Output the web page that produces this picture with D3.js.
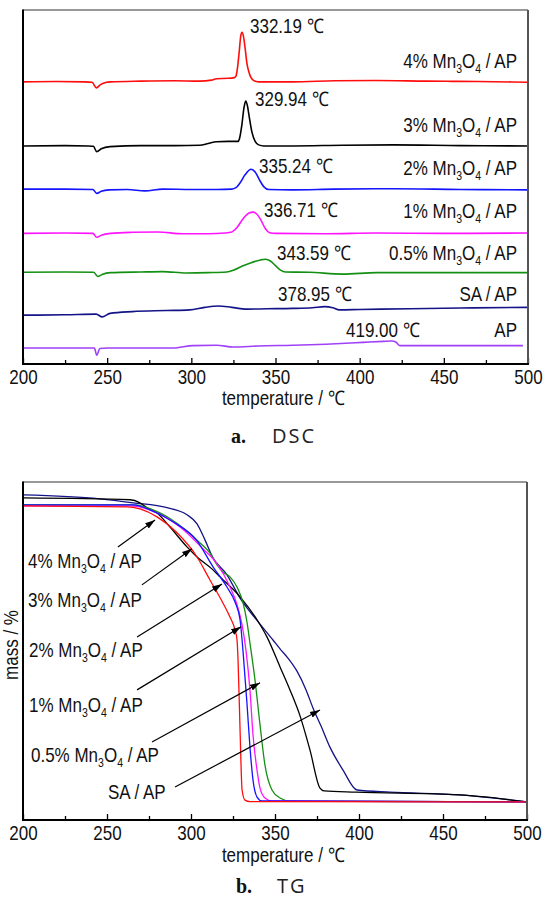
<!DOCTYPE html>
<html><head><meta charset="utf-8">
<script src="https://cdn.jsdelivr.net/npm/d3@7"></script>
<style>
body{margin:0;background:#fff}
text{font-family:"Liberation Sans",Arial,Helvetica,sans-serif;fill:#111}
</style>
</head><body>
<svg id="c" width="546" height="902"></svg>
<script>
// ---------------- DATA ----------------
const tempTicks = [200, 250, 300, 350, 400, 450, 500];
const tempMinorTicks = [225, 275, 325, 375, 425, 475];

// DSC curves: [temperature °C, heat flow (a.u., stacked offsets)]
const dsc4pct = [[200,79.7],[220,79.8],[236,79.7],[241,79.6],[243.6,78.0],[246,78.9],[249,79.5],[252,79.7],[270,79.9],[290,80.0],[305,79.9],[312,80.2],[315,80.6],[322,80.7],[325.5,80.9],[326.5,81.3],[327.5,84],[328.5,88.5],[329.3,92.5],[330.1,93.7],[331,92.5],[332,89],[333,85],[334.5,82],[336.7,80.2],[340,79.7],[360,79.7],[385,80.0],[410,80.1],[440,79.9],[470,79.8],[500,79.6]];
const dsc3pct = [[200,61.6],[225,61.7],[239,61.6],[241.8,61.5],[243.8,60.0],[246.5,60.8],[251.7,61.4],[270,61.7],[290,61.7],[305,61.8],[310,62.3],[315,62.8],[322,62.9],[327.8,62.9],[328.5,63.5],[330,67.5],[331.3,72.5],[332.3,74.3],[333.3,73],[334.5,69.5],[336,65.5],[338,62.8],[340,61.9],[343,61.6],[360,61.6],[390,61.8],[420,61.9],[460,61.7],[500,61.6]];
const dsc2pct = [[200,49.4],[225,49.4],[241.5,49.3],[243.8,48.2],[246.5,48.8],[251,49.2],[262,49.3],[272.5,48.9],[283,49.4],[300,49.3],[315,49.3],[324,49.4],[326.5,49.8],[329,51.2],[332,53.5],[335.5,55.0],[338,54.2],[340.5,52],[343,50.1],[346,49.3],[360,49.2],[385,49.4],[420,49.5],[460,49.3],[500,49.2]];
const dsc1pct = [[200,36.9],[225,37.0],[241.5,36.9],[243.8,35.8],[246.5,36.4],[252,36.9],[265,37.2],[280,37.3],[295,36.8],[310,36.8],[320,37.0],[323.5,37.2],[327,38.5],[331,41.2],[334,42.6],[336.7,42.9],[339,42.3],[341.5,40.5],[344,38.2],[346.5,37.1],[350,36.9],[380,36.8],[410,37.0],[450,36.9],[500,37.0]];
const dsc05pct = [[200,25.9],[225,26.0],[242,25.9],[244.4,24.7],[247,25.3],[252,25.8],[270,26.0],[283,26.1],[297,25.7],[310,25.8],[321,26.0],[325,26.5],[330,27.6],[336,28.7],[341,29.4],[344.2,29.6],[347,29.1],[350,27.8],[353,26.5],[356,26.0],[370,25.9],[390,25.4],[410,25.8],[450,25.8],[500,25.8]];
const dscSA = [[200,13.8],[225,13.9],[243.5,14.1],[247,13.3],[251.7,14.3],[265,14.8],[285,15.1],[299,15.3],[308,16.0],[316,16.4],[324,16.0],[333,15.5],[345,15.6],[360,15.7],[372,15.9],[379.3,16.2],[384,15.9],[388,15.3],[400,15.4],[430,15.6],[460,15.8],[500,16.0]];
const dscAP = [[200,4.5],[225,4.5],[242.4,4.5],[243.8,2.5],[245.7,4.4],[250,4.5],[270,4.5],[289,4.5],[301,5.2],[315,5.3],[325,4.8],[340,5.1],[360,5.3],[380,5.6],[402,6.1],[414,6.4],[419,6.5],[421.5,6.2],[423.8,5.2],[430,5.2],[460,5.2],[497,5.2]];

const dscLegend = ["4% Mn3O4 / AP","3% Mn3O4 / AP","2% Mn3O4 / AP","1% Mn3O4 / AP","0.5% Mn3O4 / AP","SA / AP","AP"];
const dscPeakLabels = ["332.19 \u2103","329.94 \u2103","335.24 \u2103","336.71 \u2103","343.59 \u2103","378.95 \u2103","419.00 \u2103"];

// TG curves: [temperature °C, mass %]
const tg4pct = [[200,96.4],[261.9,96.1],[269.6,95.4],[279.8,92.8],[291.7,87.6],[303.6,79.7],[311.3,72.2],[319,64.7],[323.2,60.1],[326.2,55.9],[327.4,52.6],[328,46.1],[329.2,23.2],[330.4,3.6],[332.1,0.3],[335.1,-0.2],[500,-0.3]];
const tg3pct = [[200,99.0],[263.7,98.4],[269.6,97.4],[273.8,95.8],[279.8,94.1],[287.5,89.5],[297.6,83.0],[303.6,79.7],[313.1,75.5],[317.3,73.2],[329.2,66.7],[339.3,59.2],[345.2,53.6],[353,43.8],[358.9,36.3],[364.9,27.8],[370.8,16.7],[376.8,4.2],[379.2,3.3],[398.2,2.9],[460.1,2.0],[500,-0.3]];
const tg2pct = [[200,96.7],[265.5,96.7],[275.6,95.1],[289.3,91.2],[303.6,85.0],[313.1,76.5],[321.4,69.9],[326.2,65.0],[329.2,59.2],[331,48.7],[333.3,32.0],[335.1,17.6],[336.9,6.9],[339.3,1.3],[342.3,0],[500,-0.3]];
const tg1pct = [[200,96.4],[263.7,96.4],[279.8,94.1],[293.5,89.5],[307.1,82.4],[315.5,77.5],[323.2,69.9],[327.4,64.1],[330.4,57.5],[332.7,49.3],[335.1,36.3],[336.9,21.6],[339.3,10.1],[341.1,4.2],[344,1.0],[348.2,0],[500,-0.3]];
const tg05pct = [[200,96.7],[265.5,96.7],[281.5,94.1],[295.2,89.2],[305.4,84.3],[311.3,81.0],[315.5,77.1],[319,74.8],[323.2,73.2],[327.4,69.9],[331,64.7],[333.3,58.5],[335.1,51.6],[338.1,39.5],[341.1,24.8],[344,11.8],[348.2,3.6],[353,1.0],[358.9,0],[500,-0.3]];
const tgSA = [[200,100],[245.8,98.7],[265.5,97.4],[285.7,95.8],[297.6,93.5],[303.6,90.5],[308.3,85.3],[313.1,79.4],[321.4,73.9],[329.2,66.3],[338.1,59.8],[348.8,52.6],[353,49.7],[357.7,46.7],[363,42.5],[368.5,36.3],[372.6,30.4],[377.4,24.5],[382.7,17.6],[390.5,10.1],[398.8,3.6],[418.5,2.9],[460,2.0],[500,-0.3]];

const tgLegend = ["4% Mn3O4 / AP","3% Mn3O4 / AP","2% Mn3O4 / AP","1% Mn3O4 / AP","0.5% Mn3O4 / AP","SA / AP"];
// arrows: [from T, from mass, to T, to mass]
const tgArrows = [[256.5,83.0,278.6,91.8],[270.8,70.6,300.6,82.4],[267.9,53.6,318.5,70.9],[267.9,36.3,329.8,56.9],[276.8,19.3,341.1,38.6],[290.5,4.6,376.8,29.7]];

const colors = ["#ff0d0d","#000000","#1414ff","#ff14ff","#139013","#141488","#a040f8"];

// ---------------- DRAW ----------------
const FS = 20, SX = 0.85;   // tall, slightly condensed lettering
const svg = d3.select("#c");
svg.append("defs").append("marker")
  .attr("id","ah").attr("viewBox","0 -4 10 8").attr("refX",10).attr("refY",0)
  .attr("markerWidth",10).attr("markerHeight",8).attr("markerUnits","userSpaceOnUse")
  .attr("orient","auto").append("path").attr("d","M0,-3.2L10,0L0,3.2Z").attr("fill","#000");

function richLabel(g, str, x, y, anchor){
  const t = g.append("text").attr("transform",`translate(${x},${y}) scale(${SX},1)`)
    .attr("text-anchor",anchor).style("font-size",FS+"px");
  const m = str.match(/^(.*)Mn3O4(.*)$/);
  if(!m){ t.text(str); return t; }
  t.append("tspan").text(m[1]+"Mn");
  t.append("tspan").attr("dy",4.5).style("font-size",(FS*0.62)+"px").text("3");
  t.append("tspan").attr("dy",-4.5).text("O");
  t.append("tspan").attr("dy",4.5).style("font-size",(FS*0.62)+"px").text("4");
  t.append("tspan").attr("dy",-4.5).text(m[2]);
  return t;
}

function frame(x, y, box, pad){
  const g = svg.append("g");
  const major = d3.axisBottom(x).tickValues(tempTicks).tickSizeInner(-6).tickSizeOuter(0).tickPadding(pad).tickFormat(d3.format("d"));
  const minor = d3.axisBottom(x).tickValues(tempMinorTicks).tickSizeInner(-4).tickSizeOuter(0).tickFormat("");
  const ga = g.append("g").attr("transform",`translate(0,${box.bottom})`).call(major);
  const gm = g.append("g").attr("transform",`translate(0,${box.bottom})`).call(minor);
  [ga,gm].forEach(a=>{a.select(".domain").remove(); a.selectAll("line").attr("stroke","#000").attr("stroke-width",1.3);});
  ga.selectAll("text").style("font-size",FS+"px").attr("fill","#111").attr("transform",`scale(${SX},1)`)
    .style("font-family","'Liberation Sans',Arial,sans-serif");
  g.append("line").attr("x1",box.left).attr("x2",box.right).attr("y1",box.top).attr("y2",box.top).attr("stroke","#333").attr("stroke-width",1.2);
  g.append("line").attr("x1",box.right).attr("x2",box.right).attr("y1",box.top).attr("y2",box.bottom).attr("stroke","#555").attr("stroke-width",2);
  g.append("line").attr("x1",box.left).attr("x2",box.left).attr("y1",box.top-0.6).attr("y2",box.bottom+1).attr("stroke","#000").attr("stroke-width",2);
  g.append("line").attr("x1",box.left-1).attr("x2",box.right+1).attr("y1",box.bottom).attr("y2",box.bottom).attr("stroke","#000").attr("stroke-width",2);
  return g;
}

// ---- DSC ----
const dscBox = {left:23,right:528,top:10,bottom:364};
const xD = d3.scaleLinear().domain([200,500]).range([dscBox.left,dscBox.right]);
const yD = d3.scaleLinear().domain([0,100]).range([dscBox.bottom,dscBox.top]);
const dscSeries = [dsc4pct,dsc3pct,dsc2pct,dsc1pct,dsc05pct,dscSA,dscAP];
const lineD = d3.line().x(d=>xD(d[0])).y(d=>yD(d[1])).curve(d3.curveMonotoneX);
svg.append("g").selectAll("path").data(dscSeries).join("path")
  .attr("d",lineD).attr("fill","none").attr("stroke",(d,i)=>colors[i]).attr("stroke-width",1.6);
frame(xD,yD,dscBox,6);

const dscPeakPos = [[250,33],[255,106],[259,173],[264,217],[277,260],[278,301],[346,337]];
const dscLegY = [68,132,175,218,260,301,337];
dscPeakLabels.forEach((s,i)=>richLabel(svg,s,dscPeakPos[i][0],dscPeakPos[i][1],"start"));
dscLegend.forEach((s,i)=>richLabel(svg,s,517,dscLegY[i],"end"));
richLabel(svg,"temperature / \u2103",283,405,"middle");

// caption a
const capA = svg.append("text").attr("x",231).attr("y",443);
capA.append("tspan").style("font-family","'Liberation Serif','DejaVu Serif',serif").style("font-weight","bold").style("font-size","20px").text("a.");
capA.append("tspan").attr("x",272).style("font-family","'Open Sans',Lato,sans-serif").style("font-size","20px").style("letter-spacing","2px").attr("fill","#222").text("DSC");

// ---- TG ----
const tgBox = {left:23,right:527,top:482,bottom:820};
const xT = d3.scaleLinear().domain([200,500]).range([tgBox.left,tgBox.right]);
const yT = d3.scaleLinear().domain([-6.2,104.2]).range([tgBox.bottom,tgBox.top]);
const tgSeries = [tgSA,tg3pct,tg05pct,tg1pct,tg2pct,tg4pct];
const tgColors = [colors[5],colors[1],colors[4],colors[3],colors[2],colors[0]];
const lineT = d3.line().x(d=>xT(d[0])).y(d=>yT(d[1])).curve(d3.curveMonotoneX);
svg.append("g").selectAll("path").data(tgSeries).join("path")
  .attr("d",lineT).attr("fill","none").attr("stroke",(d,i)=>tgColors[i]).attr("stroke-width",1.3);

svg.append("g").selectAll("line").data(tgArrows).join("line")
  .attr("x1",d=>xT(d[0])).attr("y1",d=>yT(d[1])).attr("x2",d=>xT(d[2])).attr("y2",d=>yT(d[3]))
  .attr("stroke","#000").attr("stroke-width",1.2).attr("marker-end","url(#ah)");
frame(xT,yT,tgBox,6);

const tgLabPos = [[28,568],[28,607],[29,657],[29,712],[31,762],[108,799]];
tgLegend.forEach((s,i)=>richLabel(svg,s,tgLabPos[i][0],tgLabPos[i][1],"start"));
richLabel(svg,"temperature / \u2103",283,862,"middle");
svg.append("text").attr("transform","translate(18,645) rotate(-90) scale(0.85,1)").attr("text-anchor","middle").style("font-size","20px").text("mass / %");

const capB = svg.append("text").attr("x",236).attr("y",893);
capB.append("tspan").style("font-family","'Liberation Serif','DejaVu Serif',serif").style("font-weight","bold").style("font-size","20px").text("b.");
capB.append("tspan").attr("x",277).style("font-family","'Open Sans',Lato,sans-serif").style("font-size","20px").style("letter-spacing","2px").attr("fill","#222").text("TG");
</script>
</body></html>
